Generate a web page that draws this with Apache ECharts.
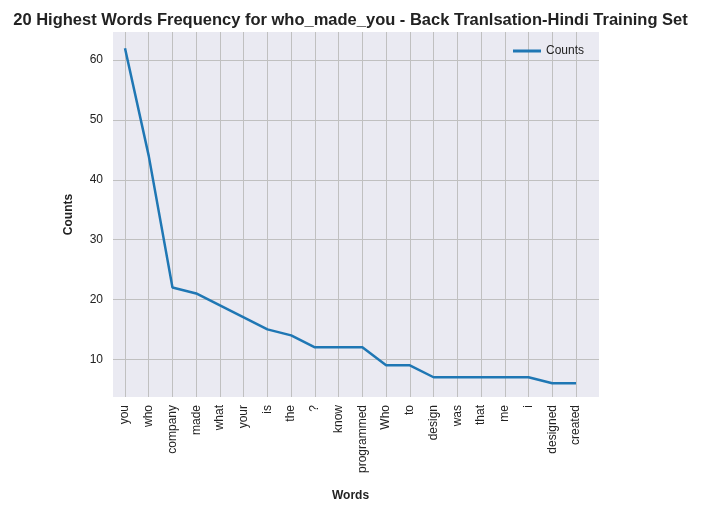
<!DOCTYPE html>
<html><head><meta charset="utf-8">
<script src="https://cdn.jsdelivr.net/npm/echarts@6/dist/echarts.min.js"></script>
<style>body{margin:0}#c{width:701px;height:513px}</style></head>
<body><div id="c"></div>
<script>
var words = ["you","who","company","made","what","your","is","the","?","know","programmed","Who","to","design","was","that","me","i","designed","created"];
var counts = [62,44,22,21,19,17,15,14,12,12,12,9,9,7,7,7,7,7,6,6];
var yTicks = [10,20,30,40,50,60];
var yMin = 3.7, yMax = 64.7;

var chart = echarts.init(document.getElementById('c'));
var font = 'Arial, Liberation Sans, sans-serif';
chart.setOption({
    title: {text: '20 Highest Words Frequency for who_made_you - Back Tranlsation-Hindi Training Set',
        left: 'center', top: 7, textStyle: {fontSize: 16.5, fontWeight: 'bold', color: '#222', fontFamily: font}},
    legend: {right: 112, top: 40, itemWidth: 28, itemHeight: 3, icon: 'rect',
        textStyle: {fontSize: 12, color: '#222', fontFamily: font}, data: ['Counts']},
    grid: [
        {left: 113, right: 102, top: 32, bottom: 116, show: true, backgroundColor: '#eaeaf2', borderWidth: 0},
        {left: 125, right: 125, top: 32, bottom: 116}
    ],
    xAxis: [
        {gridIndex: 0, type: 'value', show: false},
        {gridIndex: 1, type: 'category', data: words, boundaryGap: false,
         name: 'Words', nameLocation: 'middle', nameGap: 93,
         nameTextStyle: {fontWeight: 'bold', fontSize: 12, color: '#222', fontFamily: font},
         axisLine: {show: false}, axisTick: {show: false},
         axisLabel: {rotate: 90, fontSize: 12, color: '#222', fontFamily: font, interval: 0, margin: 8},
         splitLine: {show: true, lineStyle: {color: '#c0c0c0', width: 1}}}
    ],
    yAxis: [
        {gridIndex: 0, type: 'value', min: yMin, max: yMax,
         name: 'Counts', nameLocation: 'middle', nameGap: 38,
         nameTextStyle: {fontWeight: 'bold', fontSize: 12, color: '#222', fontFamily: font},
         axisLine: {show: false},
         axisTick: {show: false, customValues: yTicks},
         axisLabel: {customValues: yTicks, fontSize: 12, color: '#222', fontFamily: font, margin: 10},
         splitLine: {show: true, lineStyle: {color: '#c0c0c0', width: 1}}},
        {gridIndex: 1, type: 'value', min: yMin, max: yMax, show: false}
    ],
    series: [{name: 'Counts', type: 'line', xAxisIndex: 1, yAxisIndex: 1, data: counts,
        showSymbol: false, lineStyle: {color: '#1f77b4', width: 2.5}, itemStyle: {color: '#1f77b4'}}]
});
</script></body></html>
